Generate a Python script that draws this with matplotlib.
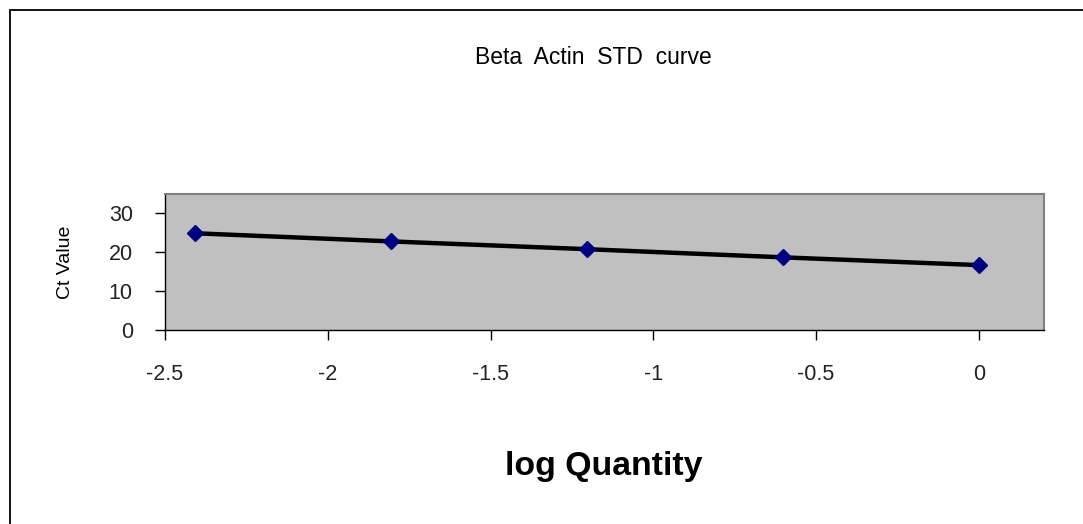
import matplotlib
matplotlib.use("Agg")
import matplotlib.pyplot as plt
from matplotlib.patches import Rectangle

log_quantity = [-2.408, -1.806, -1.204, -0.602, 0.0]
ct_values = [24.9, 22.8, 20.8, 18.7, 16.7]
x_ticks = [-2.5, -2, -1.5, -1, -0.5, 0]
x_tick_labels = ["-2.5", "-2", "-1.5", "-1", "-0.5", "0"]
y_ticks = [0, 10, 20, 30]

plt.rcParams['font.family'] = ['Liberation Sans', 'DejaVu Sans']

W, H = 1083, 524
fig = plt.figure(figsize=(W / 100, H / 100), dpi=100)
fig.patch.set_facecolor('white')

# outer chart frame (only left and top edges visible in the crop)
fig.add_artist(Rectangle((10 / W, -0.05), 1.2, 1.05 - 10 / H, transform=fig.transFigure,
                         fill=False, edgecolor='black', linewidth=1.3))

left, right, top, bottom = 165, 1044, 194, 330
ax = fig.add_axes([left / W, 1 - bottom / H, (right - left) / W, (bottom - top) / H])
ax.set_facecolor('#c0c0c0')
ax.plot(log_quantity, ct_values, color='black', linewidth=3.2, zorder=2)
ax.plot(log_quantity, ct_values, linestyle='none', marker='D', markersize=8,
        color='#000080', zorder=3)
ax.set_xlim(-2.5, 0.2)
ax.set_ylim(0, 35)
ax.set_xticks(x_ticks)
ax.set_xticklabels(x_tick_labels)
ax.set_yticks(y_ticks)
for s in ['top', 'right']:
    ax.spines[s].set_color('#808080')
    ax.spines[s].set_linewidth(1.5)
for s in ['left', 'bottom']:
    ax.spines[s].set_color('black')
    ax.spines[s].set_linewidth(1)
ax.tick_params(axis='both', direction='out', length=7.2, width=1, labelsize=15.5, colors='black')
ax.tick_params(axis='x', pad=17)
ax.tick_params(axis='y', pad=16)
for t in ax.get_xticklabels() + ax.get_yticklabels():
    t.set_color('#222222')

fig.text(593.5 / W, 1 - 57 / H, "Beta  Actin  STD  curve", ha='center', va='center',
         fontsize=16.5)
fig.text(603.5 / W, 1 - 466 / H, "log Quantity", ha='center', va='center', fontsize=24.4,
         fontweight='bold')
fig.text(65 / W, 1 - 262 / H, "Ct Value", ha='center', va='center', fontsize=14,
         rotation=90)

fig.savefig("out.png", dpi=100)
